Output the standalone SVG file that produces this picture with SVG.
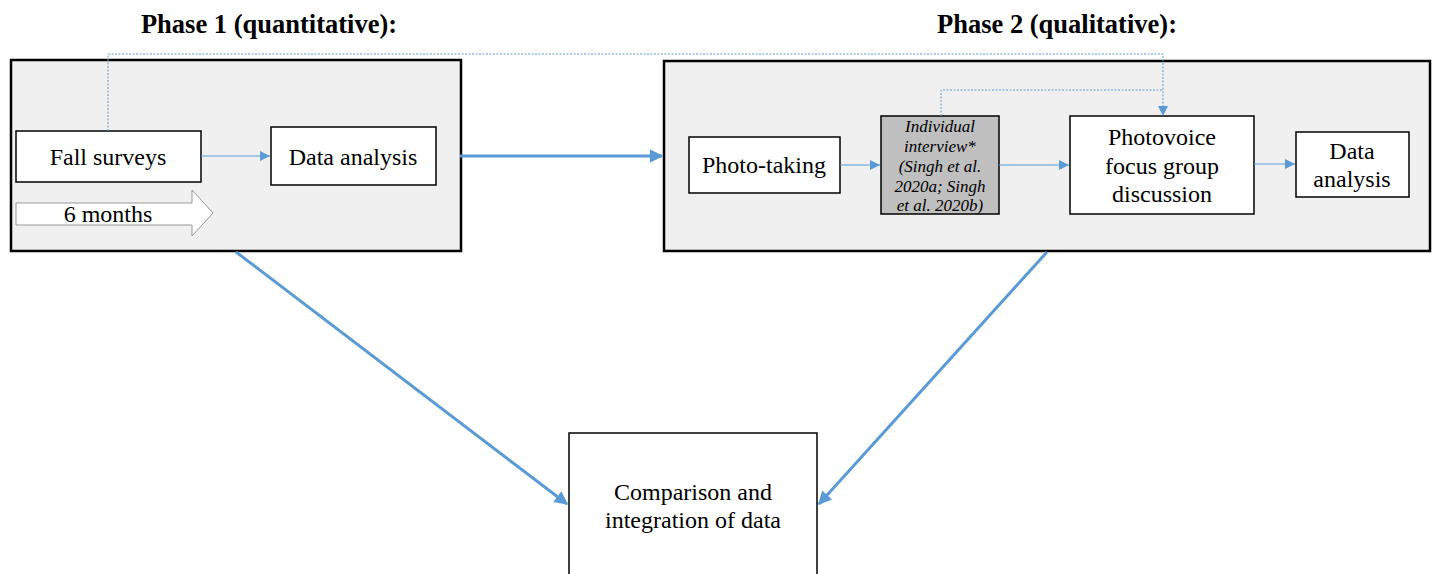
<svg xmlns="http://www.w3.org/2000/svg" width="1432" height="574" viewBox="0 0 1432 574">
<defs>
<style>
text{font-family:'Liberation Serif','Tinos','Times New Roman','DejaVu Serif',serif;fill:#000}
.h{font-size:26.5px;font-weight:bold}
.n{font-size:24px}
.i{font-size:17px;font-style:italic}
.box{fill:#fff;stroke:#000;stroke-width:1.5}
.phase{fill:#f0f0f0;stroke:#000;stroke-width:2.5}
.thin{fill:none;stroke:#5b9bd5;stroke-width:1.2}
.dot{fill:none;stroke:#5b9bd5;stroke-width:1;stroke-dasharray:2 1.5}
.thick{fill:none;stroke:#5b9bd5;stroke-width:3}
</style>
<marker id="a" viewBox="0 0 10 10" refX="10" refY="5" markerWidth="10" markerHeight="10" markerUnits="userSpaceOnUse" orient="auto"><path d="M0,0L10,5L0,10z" fill="#5b9bd5"/></marker>
<marker id="b" viewBox="0 0 10 10" refX="9" refY="5" markerWidth="5" markerHeight="4.5" orient="auto"><path d="M0,0L10,5L0,10z" fill="#5b9bd5"/></marker>
</defs>
<text class="h" x="269" y="33" text-anchor="middle">Phase 1 (quantitative):</text>
<text class="h" x="1057" y="33" text-anchor="middle">Phase 2 (qualitative):</text>
<g id="phase1">
<rect class="phase" x="11" y="60" width="450" height="191"/>
</g>
<g id="phase2">
<rect class="phase" x="664" y="61" width="766" height="190"/>
</g>
<g id="fall-surveys">
<rect class="box" x="16" y="131" width="185" height="51"/>
<text class="n" x="108" y="165" text-anchor="middle">Fall surveys</text>
</g>
<g id="data-analysis-1">
<rect class="box" x="271" y="127" width="165" height="58"/>
<text class="n" x="353" y="165" text-anchor="middle">Data analysis</text>
</g>
<g id="six-months">
<path d="M16,203H192V190L213,213L192,236V225H16Z" fill="#fff" stroke="#999" stroke-width="1"/>
<text class="n" x="108" y="222" text-anchor="middle">6 months</text>
</g>
<g id="photo-taking">
<rect class="box" x="689" y="137" width="151" height="56"/>
<text class="n" x="764" y="173" text-anchor="middle">Photo-taking</text>
</g>
<g id="interview">
<rect x="881" y="116" width="118" height="98" fill="#bfbfbf" stroke="#000" stroke-width="1.5"/>
<text class="i" text-anchor="middle"><tspan x="940" y="132">Individual</tspan><tspan x="940" y="152">interview*</tspan><tspan x="940" y="172">(Singh et al.</tspan><tspan x="940" y="192">2020a; Singh</tspan><tspan x="940" y="211">et al. 2020b)</tspan></text>
</g>
<g id="photovoice">
<rect class="box" x="1070" y="116" width="184" height="98"/>
<text class="n" text-anchor="middle"><tspan x="1162" y="145">Photovoice</tspan><tspan x="1162" y="174">focus group</tspan><tspan x="1162" y="202">discussion</tspan></text>
</g>
<g id="data-analysis-2">
<rect class="box" x="1296" y="132" width="113" height="65"/>
<text class="n" text-anchor="middle"><tspan x="1352" y="159">Data</tspan><tspan x="1352" y="187">analysis</tspan></text>
</g>
<g id="comparison">
<rect class="box" x="569" y="433" width="248" height="150"/>
<text class="n" text-anchor="middle"><tspan x="693" y="500">Comparison and</tspan><tspan x="693" y="528">integration of data</tspan></text>
</g>
<g id="connectors">
<path class="thin" d="M201,156H270" marker-end="url(#a)"/>
<path class="thin" d="M840,165H880" marker-end="url(#a)"/>
<path class="thin" d="M999,165H1069" marker-end="url(#a)"/>
<path class="thin" d="M1254,164H1295" marker-end="url(#a)"/>
<path class="dot" d="M108,131V54H1163V115"/>
<path class="dot" d="M941,116V90H1163"/>
<path d="M1158,106L1163,116L1168,106z" fill="#5b9bd5"/>
<path class="thick" d="M460,156H662" marker-end="url(#b)"/>
<path class="thick" d="M236,252L567,504" marker-end="url(#b)"/>
<path class="thick" d="M1047,252L819,504" marker-end="url(#b)"/>
</g>
</svg>
